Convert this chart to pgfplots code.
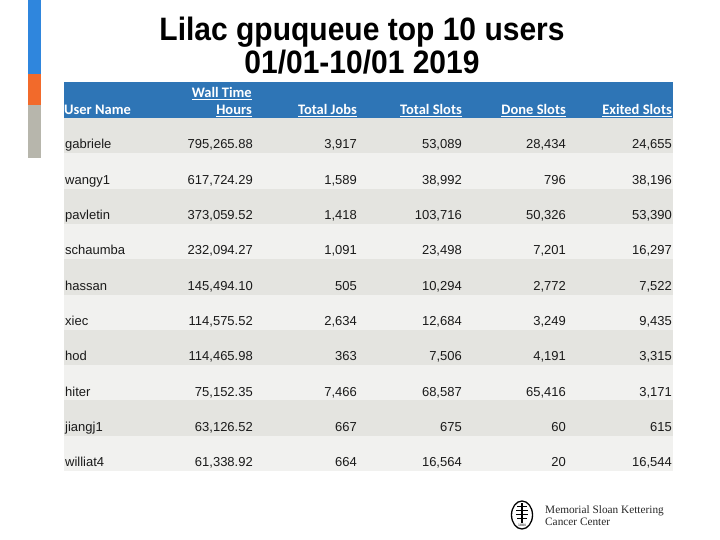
\documentclass[border=0pt]{standalone}
\usepackage{pgfplots}
\pgfplotsset{compat=1.18}
\usepackage{pgfplotstable}
\usepackage{fontspec}
\setmainfont{Liberation Sans}
\newfontfamily\hdrfont{Carlito}
\newfontfamily\logofont{Liberation Serif}
\definecolor{barblue}{HTML}{2F86DD}
\definecolor{barorange}{HTML}{F26A2B}
\definecolor{bargray}{HTML}{B7B6AC}
\definecolor{hdrblue}{HTML}{2E75B6}
\definecolor{rowdark}{HTML}{E4E4E0}
\definecolor{rowlight}{HTML}{F1F1EF}
\definecolor{txt}{HTML}{1A1A1A}

\pgfplotstableread{
y name wall jobs tslots done exited
149.0 gabriele 795,265.88 3,917 53,089 28,434 24,655
184.3 wangy1 617,724.29 1,589 38,992 796 38,196
219.6 pavletin 373,059.52 1,418 103,716 50,326 53,390
254.9 schaumba 232,094.27 1,091 23,498 7,201 16,297
290.2 hassan 145,494.10 505 10,294 2,772 7,522
325.5 xiec 114,575.52 2,634 12,684 3,249 9,435
360.8 hod 114,465.98 363 7,506 4,191 3,315
396.1 hiter 75,152.35 7,466 68,587 65,416 3,171
431.4 jiangj1 63,126.52 667 675 60 615
466.7 williat4 61,338.92 664 16,564 20 16,544
}\users

\pgfplotsset{
  celltext/.style={draw=none, mark=none, nodes near coords,
    point meta=explicit symbolic,
    nodes near coords align={anchor=base east},
    every node near coord/.append style={inner sep=0pt, anchor=base east,
      font=\fontsize{13}{15}\selectfont, text=txt}},
  rect/.style={draw=none, fill=#1, mark=none}
}

\begin{document}
\begin{tikzpicture}
\begin{axis}[
  width=720pt, height=540pt, scale only axis,
  xmin=0, xmax=720, ymin=0, ymax=540, y dir=reverse,
  hide axis, clip=false]
\path (rel axis cs:0,0) rectangle (rel axis cs:1,1);
% left accent bar
\addplot[rect=barblue] coordinates {(28,0)(41,0)(41,74)(28,74)} -- cycle;
\addplot[rect=barorange] coordinates {(28,74)(41,74)(41,105)(28,105)} -- cycle;
\addplot[rect=bargray] coordinates {(28,105)(41,105)(41,158)(28,158)} -- cycle;
% header
\addplot[rect=hdrblue] coordinates {(64,82)(673,82)(673,118)(64,118)} -- cycle;
% rows
\addplot[rect=rowdark] coordinates {(64,118)(673,118)(673,153.3)(64,153.3)} -- cycle;
\addplot[rect=rowlight] coordinates {(64,153.3)(673,153.3)(673,188.6)(64,188.6)} -- cycle;
\addplot[rect=rowdark] coordinates {(64,188.6)(673,188.6)(673,223.9)(64,223.9)} -- cycle;
\addplot[rect=rowlight] coordinates {(64,223.9)(673,223.9)(673,259.2)(64,259.2)} -- cycle;
\addplot[rect=rowdark] coordinates {(64,259.2)(673,259.2)(673,294.5)(64,294.5)} -- cycle;
\addplot[rect=rowlight] coordinates {(64,294.5)(673,294.5)(673,329.8)(64,329.8)} -- cycle;
\addplot[rect=rowdark] coordinates {(64,329.8)(673,329.8)(673,365.1)(64,365.1)} -- cycle;
\addplot[rect=rowlight] coordinates {(64,365.1)(673,365.1)(673,400.4)(64,400.4)} -- cycle;
\addplot[rect=rowdark] coordinates {(64,400.4)(673,400.4)(673,435.7)(64,435.7)} -- cycle;
\addplot[rect=rowlight] coordinates {(64,435.7)(673,435.7)(673,471)(64,471)} -- cycle;
% table body
\addplot[celltext, every node near coord/.append style={anchor=base west},
  nodes near coords align={anchor=base west}]
  table[x expr=65, y=y, meta=name] {\users};
\addplot[celltext] table[x expr=253, y=y, meta=wall] {\users};
\addplot[celltext] table[x expr=357, y=y, meta=jobs] {\users};
\addplot[celltext] table[x expr=462, y=y, meta=tslots] {\users};
\addplot[celltext] table[x expr=566, y=y, meta=done] {\users};
\addplot[celltext] table[x expr=672, y=y, meta=exited] {\users};
% title
\node[anchor=base, font=\fontsize{30}{34}\selectfont\bfseries, inner sep=0pt, yscale=1.08]
  at (axis cs:362,41) {Lilac gpuqueue top 10 users};
\node[anchor=base, font=\fontsize{30}{34}\selectfont\bfseries, inner sep=0pt, yscale=1.08]
  at (axis cs:362,74) {01/01-10/01 2019};
% header labels
\begin{scope}[every node/.style={inner sep=0pt, text=white,
   font=\hdrfont\fontsize{14.5}{16}\selectfont\bfseries}]
\node[anchor=base west] at (axis cs:64,115) {User Name};
\node[anchor=base east] at (axis cs:252,98) {\underline{Wall Time}};
\node[anchor=base east] at (axis cs:252,115) {\underline{Hours}};
\node[anchor=base east] at (axis cs:357,115) {\underline{Total Jobs}};
\node[anchor=base east] at (axis cs:462,115) {\underline{Total Slots}};
\node[anchor=base east] at (axis cs:566,115) {\underline{Done Slots}};
\node[anchor=base east] at (axis cs:672,115) {\underline{Exited Slots}};
\end{scope}
% logo
\draw[line width=1.3pt, black] (axis cs:522,515) ellipse [x radius=10.5pt, y radius=14pt];
\draw[line width=1.2pt, black] (axis cs:522,503) -- (axis cs:522,523);
\draw[line width=1pt, black] (axis cs:517,506) -- (axis cs:527,506)
  (axis cs:516,510) -- (axis cs:528,510) (axis cs:516,514) -- (axis cs:528,514)
  (axis cs:517,518) -- (axis cs:527,518);
\node[inner sep=0pt, font=\fontsize{3.5}{4}\selectfont] at (axis cs:522,525.5) {1884};
\node[anchor=base west, inner sep=0pt, font=\logofont\fontsize{11.3}{12}\selectfont, text=black!85]
  at (axis cs:545,513) {Memorial Sloan Kettering};
\node[anchor=base west, inner sep=0pt, font=\logofont\fontsize{11.3}{12}\selectfont, text=black!85]
  at (axis cs:545,525) {Cancer Center};
\end{axis}
\end{tikzpicture}
\end{document}
